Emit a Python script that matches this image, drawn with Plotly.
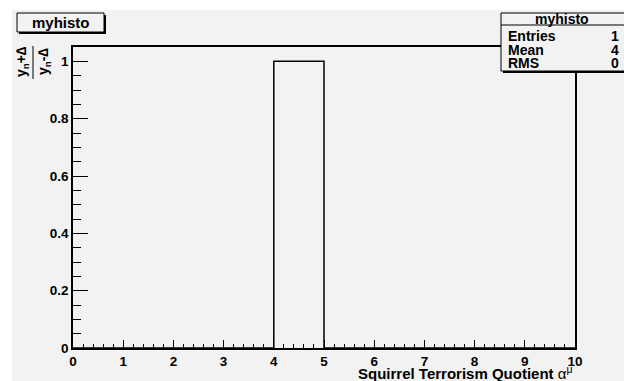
import plotly.graph_objects as go

# ---- data ----
bin_edges = [0, 1, 2, 3, 4, 5, 6, 7, 8, 9, 10]
counts = [0, 0, 0, 0, 1, 0, 0, 0, 0, 0]
x_tick_vals = [0, 1, 2, 3, 4, 5, 6, 7, 8, 9, 10]
x_tick_text = ["0", "1", "2", "3", "4", "5", "6", "7", "8", "9", "10"]
y_tick_vals = [0, 0.2, 0.4, 0.6, 0.8, 1.0]
y_tick_text = ["0", "0.2", "0.4", "0.6", "0.8", "1"]
hist_name = "myhisto"
stat_labels = ["Entries", "Mean", "RMS"]
stat_values = ["1", "4", "0"]
x_title = "Squirrel Terrorism Quotient "
y_num = "y<sub>n</sub>+∆"
y_den = "y<sub>n</sub>-∆"

# ---- layout geometry (pixels) ----
W, H = 624, 381
L, R, T, B = 73, 575, 47, 348
PW, PH = R - L, B - T
FONT = "Liberation Sans, Arial, Helvetica, sans-serif"
GREY = "#f2f2f2"


def px(x):
    return (x - L) / PW


def py(y):
    return (B - y) / PH


fig = go.Figure()

yy = counts + [counts[-1]]
fig.add_trace(go.Scatter(
    x=bin_edges, y=yy, mode="lines", line=dict(shape="hv", color="black", width=1.5),
    hoverinfo="skip", showlegend=False, cliponaxis=False,
))

shapes = []
# grey canvas area
shapes.append(dict(type="rect", xref="paper", yref="paper", x0=px(12), x1=px(W + 5),
                   y0=py(10), y1=py(H + 5), fillcolor=GREY, line=dict(width=0), layer="below"))
# title box with shadow
shapes.append(dict(type="rect", xref="paper", yref="paper", x0=px(19), x1=px(106),
                   y0=py(15), y1=py(34), fillcolor="black", line=dict(width=0)))
shapes.append(dict(type="rect", xref="paper", yref="paper", x0=px(17), x1=px(104),
                   y0=py(13), y1=py(32), fillcolor=GREY, line=dict(color="black", width=1)))
# stats box with shadow
shapes.append(dict(type="rect", xref="paper", yref="paper", x0=px(503), x1=px(W + 10),
                   y0=py(15), y1=py(73), fillcolor="black", line=dict(width=0)))
shapes.append(dict(type="rect", xref="paper", yref="paper", x0=px(501), x1=px(W + 8),
                   y0=py(13), y1=py(71), fillcolor=GREY, line=dict(color="black", width=1)))
shapes.append(dict(type="line", xref="paper", yref="paper", x0=px(501), x1=px(W + 8),
                   y0=py(25), y1=py(25), line=dict(color="black", width=1)))
# fraction bar of y title
shapes.append(dict(type="line", xref="paper", yref="paper", x0=px(33), x1=px(33),
                   y0=py(46), y1=py(79), line=dict(color="black", width=1)))

ann = []
bold = dict(family=FONT, color="black", weight="bold")
ann.append(dict(xref="paper", yref="paper", x=px(60.5), y=py(22.5), text=hist_name,
                showarrow=False, xanchor="center", yanchor="middle",
                font=dict(size=15, **bold)))
ann.append(dict(xref="paper", yref="paper", x=px(562), y=py(19), text=hist_name,
                showarrow=False, xanchor="center", yanchor="middle",
                font=dict(size=14, **bold)))
row_y = [35.5, 50, 63.5]
for lab, val, ry in zip(stat_labels, stat_values, row_y):
    ann.append(dict(xref="paper", yref="paper", x=px(506), y=py(ry), text=lab,
                    showarrow=False, xanchor="left", yanchor="middle",
                    font=dict(size=14, **bold)))
    ann.append(dict(xref="paper", yref="paper", x=px(621), y=py(ry), text=val,
                    showarrow=False, xanchor="right", yanchor="middle",
                    font=dict(size=14, **bold)))
# x axis title
ann.append(dict(xref="paper", yref="paper", x=1.0, y=py(372),
                text=x_title + '<span style="font-weight:normal">α<sup>μ</sup></span>',
                showarrow=False, xanchor="right", yanchor="middle",
                font=dict(size=15, **bold)))
# y axis title as a fraction
ann.append(dict(xref="paper", yref="paper", x=px(22), y=py(62), text=y_num, textangle=-90,
                showarrow=False, xanchor="center", yanchor="middle",
                font=dict(size=14, **bold)))
ann.append(dict(xref="paper", yref="paper", x=px(44), y=py(62), text=y_den, textangle=-90,
                showarrow=False, xanchor="center", yanchor="middle",
                font=dict(size=14, **bold)))

fig.update_layout(
    width=W, height=H,
    margin=dict(l=L, r=W - R, t=T, b=H - B, pad=0),
    paper_bgcolor="white", plot_bgcolor=GREY,
    shapes=shapes, annotations=ann, showlegend=False,
    xaxis=dict(range=[0, 10], tickvals=x_tick_vals, ticktext=x_tick_text,
               ticks="inside", ticklen=8, tickwidth=1, tickcolor="black",
               minor=dict(dtick=0.2, tick0=0, ticks="inside", ticklen=4, tickcolor="black", tickwidth=1),
               showgrid=False, zeroline=False, showline=True, mirror=True,
               linecolor="black", linewidth=1.5,
               tickfont=dict(size=13.5, **bold), fixedrange=True),
    yaxis=dict(range=[0, 1.05], tickvals=y_tick_vals, ticktext=y_tick_text,
               ticks="inside", ticklen=15, tickwidth=1, tickcolor="black",
               minor=dict(dtick=0.05, tick0=0, ticks="inside", ticklen=8, tickcolor="black", tickwidth=1),
               showgrid=False, zeroline=False, showline=True, mirror=True,
               linecolor="black", linewidth=1.5,
               tickfont=dict(size=13.5, **bold), fixedrange=True),
)

fig.write_html("out.html", config={"displayModeBar": False},
               post_script="document.body.style.margin='0';document.body.style.overflow='hidden';")
